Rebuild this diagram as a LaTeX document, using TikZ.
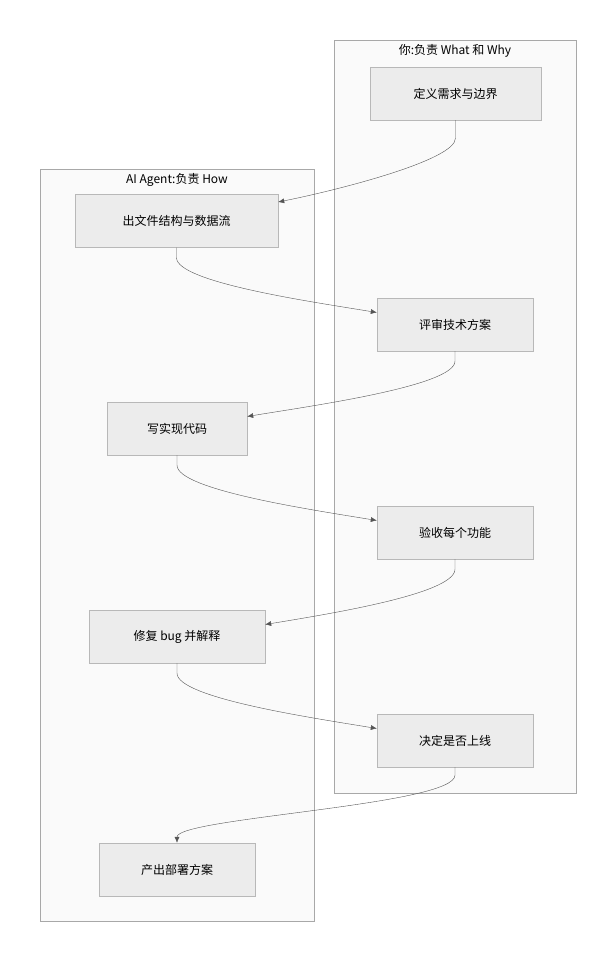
\documentclass[tikz,border=0pt]{standalone}
\usepackage{fontspec}
\setmainfont{Noto Sans CJK SC}
\usetikzlibrary{arrows.meta}
\definecolor{boxfill}{HTML}{ECECEC}
\definecolor{boxline}{HTML}{B8B8B8}
\definecolor{grpfill}{HTML}{FAFAFA}
\definecolor{grpline}{HTML}{A8A8A8}
\definecolor{edgecol}{HTML}{555555}
\tikzset{
  stepbox/.style = {draw = boxline, fill = boxfill, minimum height = 53pt, font = \fontsize{12}{14}\selectfont},
  grp/.style = {draw = grpline, fill = grpfill},
  flow/.style = {draw = edgecol, -{Latex[length=6pt, width=5pt]}},
}
\begin{document}
\begin{tikzpicture}[x = 1pt, y = -1pt]
  \useasboundingbox (0, 0) rectangle (616, 962);

  % Groups.
  \draw [grp] (334, 40) rectangle (576, 793);
  \node [font = \fontsize{12}{14}\selectfont] (youtitle) at (455, 51) {你:负责 What 和 Why};
  \draw [grp] (40, 169) rectangle (314, 921);
  \node [font = \fontsize{12}{14}\selectfont] (aititle) at (177, 180) {AI Agent:负责 How};

  % Steps.
  \node [stepbox, minimum width = 171pt] (define) at (455.5, 93.5) {定义需求与边界};
  \node [stepbox, minimum width = 203pt] (struct) at (176.5, 221) {出文件结构与数据流};
  \node [stepbox, minimum width = 156pt] (review) at (455, 324.5) {评审技术方案};
  \node [stepbox, minimum width = 140pt] (code) at (177, 428.5) {写实现代码};
  \node [stepbox, minimum width = 156pt] (accept) at (455, 532.5) {验收每个功能};
  \node [stepbox, minimum width = 176pt] (fix) at (177, 636.5) {修复 bug 并解释};
  \node [stepbox, minimum width = 156pt] (launch) at (455, 740.5) {决定是否上线};
  \node [stepbox, minimum width = 156pt] (deploy) at (177, 869.5) {产出部署方案};

  % Connectors.
  \draw [flow] (define.south) -- ++(0, 18) .. controls ++(0, 22) and ++(60, -12) .. ([yshift = 19pt]struct.east);
  \draw [flow] (struct.south) -- ++(0, 10) .. controls ++(0, 25) and ++(-60, -10) .. ([yshift = 12pt]review.west);
  \draw [flow] (review.south) -- ++(0, 10) .. controls ++(0, 25) and ++(60, -10) .. ([yshift = 12pt]code.east);
  \draw [flow] (code.south) -- ++(0, 10) .. controls ++(0, 25) and ++(-60, -10) .. ([yshift = 12pt]accept.west);
  \draw [flow] (accept.south) -- ++(0, 10) .. controls ++(0, 25) and ++(60, -10) .. ([yshift = 12pt]fix.east);
  \draw [flow] (fix.south) -- ++(0, 10) .. controls ++(0, 25) and ++(-60, -10) .. ([yshift = 12pt]launch.west);
  \draw [flow] (launch.south) -- ++(0, 8) .. controls ++(0, 30) and ++(0, -25) .. (deploy.north);
\end{tikzpicture}
\end{document}
